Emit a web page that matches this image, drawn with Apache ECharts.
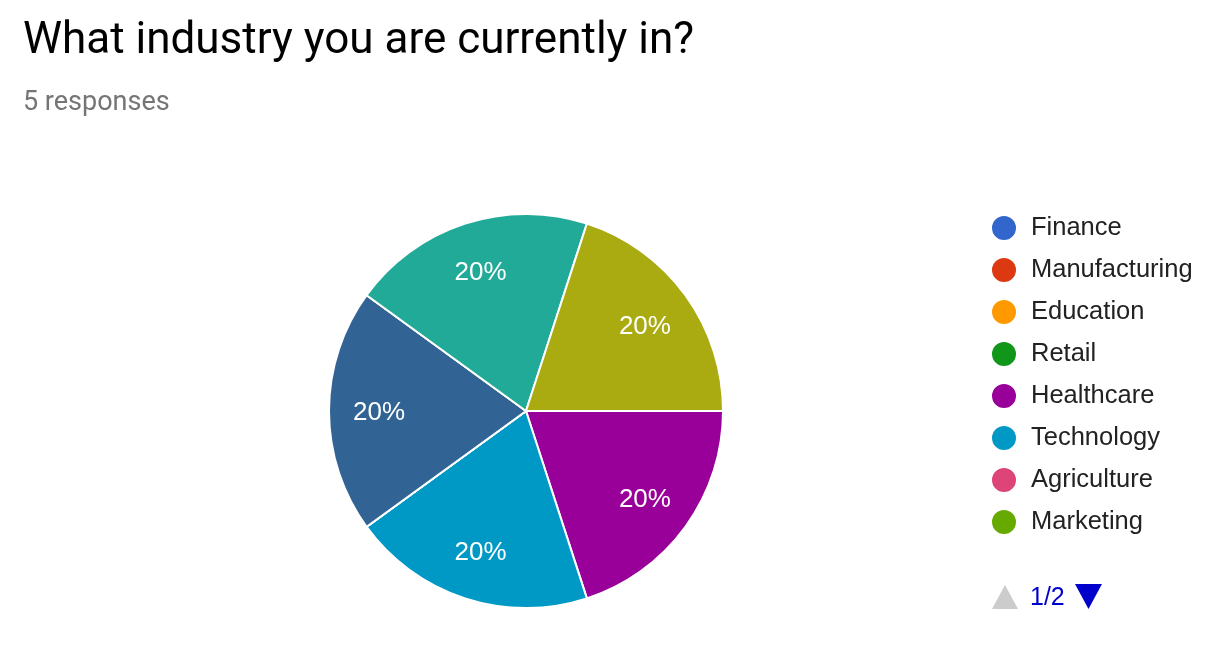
<!DOCTYPE html>
<html>
<head>
<meta charset="utf-8">
<script src="https://cdn.jsdelivr.net/npm/echarts@6/dist/echarts.min.js"></script>
<style>
html,body{margin:0;padding:0;background:#fff;}
#chart{width:1226px;height:658px;}
</style>
</head>
<body>
<div id="chart"></div>
<script>
const titleText = 'What industry you are currently in?';
const subtitleText = '5 responses';
const categories = ['Finance','Manufacturing','Education','Retail','Healthcare','Technology','Agriculture','Marketing','Government','Consulting','Real Estate','Media','Other'];
const counts = [0,0,0,0,1,1,0,0,0,1,0,1,1];
const colors = ['#3366cc','#dc3912','#ff9900','#109618','#990099','#0099c6','#dd4477','#66aa00','#b82e2e','#316395','#994499','#22aa99','#aaaa11'];
const legendPageSize = 8;
const pageText = '1/2';

const pieData = categories.map((c, i) => ({ name: c, value: counts[i], itemStyle: { color: colors[i] } }));
const labelData = categories.map((c, i) => ({ name: c, value: counts[i] }));
const legendFirstPage = categories.slice(0, legendPageSize);

const FONT = '"Liberation Sans", Arial, sans-serif';

const chart = echarts.init(document.getElementById('chart'));
chart.setOption({
  animation: false,
  title: [
    { text: titleText, left: 18, top: 15, textStyle: { fontFamily: 'Roboto', fontSize: 44, fontWeight: 'normal', color: '#000' } },
    { text: subtitleText, left: 18, top: 85, textStyle: { fontFamily: 'Roboto', fontSize: 27, fontWeight: 'normal', color: '#757575' } }
  ],
  legend: {
    orient: 'vertical',
    left: 985,
    top: 209,
    data: legendFirstPage,
    icon: 'circle',
    itemWidth: 26,
    itemHeight: 26,
    itemGap: 14,
    selectedMode: false,
    textStyle: { fontFamily: FONT, fontSize: 25.5, lineHeight: 26, color: '#222', padding: [0, 0, 0, 9] }
  },
  graphic: [
    { type: 'polygon', shape: { points: [[992, 609], [1018, 609], [1005, 585]] }, style: { fill: '#cccccc' }, silent: true },
    { type: 'text', left: 1030, top: 586, style: { text: pageText, font: '25px ' + FONT, fill: '#0000cc' }, silent: true },
    { type: 'polygon', shape: { points: [[1075, 584], [1102, 584], [1088.5, 609]] }, style: { fill: '#0000cc' }, silent: true }
  ],
  series: [
    {
      type: 'pie',
      center: [526, 411],
      radius: [0, 197],
      startAngle: 0,
      clockwise: true,
      silent: true,
      label: { show: false },
      labelLine: { show: false },
      itemStyle: { borderColor: '#fff', borderWidth: 2 },
      data: pieData
    },
    {
      type: 'pie',
      center: [526, 411],
      radius: [91, 197],
      startAngle: 0,
      clockwise: true,
      silent: true,
      itemStyle: { color: 'rgba(0,0,0,0)', borderWidth: 0 },
      label: {
        show: true,
        position: 'inside',
        fontFamily: FONT,
        fontSize: 26,
        color: '#fff',
        offset: [0, 2],
        formatter: p => p.value > 0 ? Math.round(p.percent) + '%' : ''
      },
      labelLine: { show: false },
      data: labelData
    }
  ]
});
</script>
</body>
</html>
